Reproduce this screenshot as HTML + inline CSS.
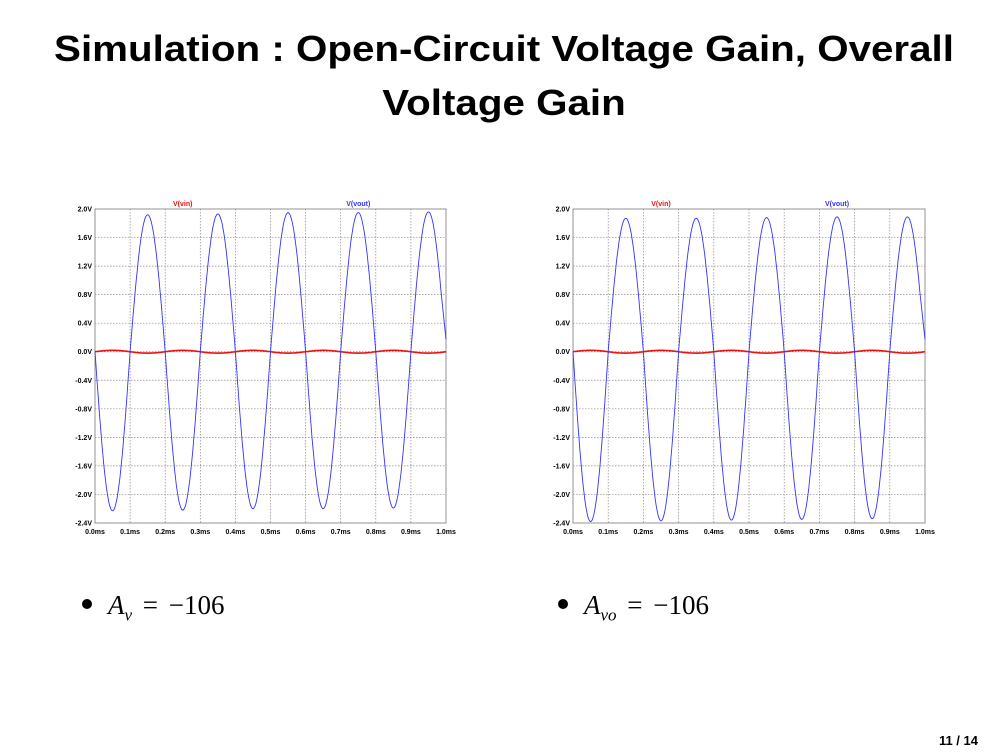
<!DOCTYPE html>
<html><head><meta charset="utf-8"><style>
body{margin:0;width:1008px;height:756px;background:#fff;position:relative;overflow:hidden;font-family:"Liberation Sans",sans-serif}
.title{position:absolute;left:0;width:1008px;top:22px;text-align:center;font-size:36px;font-weight:bold;line-height:54px;color:#000;transform:scaleX(1.12);transform-origin:504px 0}
.bul{position:absolute;top:590px;font-family:"Liberation Serif",serif;font-size:27px;word-spacing:4px}
.bul i{font-style:italic}
.dot{display:inline-block;width:10px;height:10px;border-radius:50%;background:#000;margin-right:16px;vertical-align:middle;position:relative;top:-4px}
.pg{position:absolute;right:30px;top:733px;font-size:13px;font-weight:bold}
svg{position:absolute;left:0;top:0}
</style></head><body>
<div class="title">Simulation : Open-Circuit Voltage Gain, Overall<br>Voltage Gain</div>
<svg id="charts" width="1008" height="756"></svg>
<div class="bul" style="left:82px"><span class="dot"></span><i>A</i><sub style="font-size:17px"><i>v</i></sub> = −106</div>
<div class="bul" style="left:558px"><span class="dot"></span><i>A</i><sub style="font-size:17px"><i>vo</i></sub> = −106</div>
<div class="pg">11 / 14</div>
<script>
const yTicks=[2.0,1.6,1.2,0.8,0.4,0.0,-0.4,-0.8,-1.2,-1.6,-2.0,-2.4];
const xTicks=[0,0.1,0.2,0.3,0.4,0.5,0.6,0.7,0.8,0.9,1.0];
const leftVoutMax=[1.92,1.93,1.95,1.95,1.96];
const leftVoutMin=[-2.23,-2.22,-2.20,-2.20,-2.19];
const rightVoutMax=[1.87,1.87,1.88,1.89,1.89];
const rightVoutMin=[-2.38,-2.37,-2.36,-2.35,-2.34];
const vinAmp=[0.02,0.02];
const NS="http://www.w3.org/2000/svg";
const svg=document.getElementById('charts');
function mk(tag,attrs,parent){const e=document.createElementNS(NS,tag);for(const k in attrs)e.setAttribute(k,attrs[k]);(parent||svg).appendChild(e);return e;}
function chart(L,R,T,B,vmax,vmin,vinA,name){
 const g=mk('g',{});
 
 
 const xs=t=>L+(t/1.0)*(R-L);
 const ys=v=>T+(2.0-v)/4.4*(B-T);
 mk('rect',{x:L,y:T,width:R-L,height:B-T,fill:'none',stroke:'#999','stroke-width':1},g);
 yTicks.forEach(v=>{
  const gl=mk('line',{x1:L,x2:R,y1:ys(v),y2:ys(v),stroke:'#888','stroke-width':0.7,'stroke-dasharray':'1.5,1.5'},g);
  
  
  const tx=mk('text',{x:L-3,y:ys(v)+2.5,'text-anchor':'end','font-size':7,'font-weight':'bold',fill:'#000'},g);
  tx.textContent=v.toFixed(1)+'V';
  
  
 });
 xTicks.forEach(t=>{
  const gl=mk('line',{x1:xs(t),x2:xs(t),y1:T,y2:B,stroke:'#888','stroke-width':0.7,'stroke-dasharray':'1.5,1.5'},g);
  
  
  const tx=mk('text',{x:xs(t),y:B+11,'text-anchor':'middle','font-size':7,'font-weight':'bold',fill:'#000'},g);
  tx.textContent=t.toFixed(1)+'ms';
  
  
 });
 let d='',dv='';
 const N=400;
 for(let i=0;i<=N;i++){
  const t=i/N*0.985;
  const c=Math.min(4,Math.floor(t/0.2));
  const s=Math.sin(2*Math.PI*t/0.2);
  const v=s>0?-s*(-vmin[c]):-s*vmax[c];
  d+=(i?'L':'M')+xs(t).toFixed(1)+','+ys(v).toFixed(1);
  const vi=s*(s>0?vinA[0]:vinA[1]);
  dv+=(i?'L':'M')+xs(t).toFixed(1)+','+ys(vi).toFixed(1);
 }
 d+='L'+xs(1.0).toFixed(1)+','+ys(0.17).toFixed(1);
 dv+='L'+xs(1.0).toFixed(1)+','+ys(0).toFixed(1);
 const pv=mk('path',{d:dv,fill:'none',stroke:'#ee1111','stroke-width':1.6},g);
 
 
 const po=mk('path',{d:d,fill:'none',stroke:'#3333ff','stroke-width':0.9},g);
 
 
 const l1=mk('text',{x:L+(R-L)*0.25,y:T-3,'text-anchor':'middle','font-size':7,'font-weight':'bold',fill:'#ee1111'},g);
 l1.textContent='V(vin)';
 
 
 const l2=mk('text',{x:L+(R-L)*0.75,y:T-3,'text-anchor':'middle','font-size':7,'font-weight':'bold',fill:'#3333ff'},g);
 l2.textContent='V(vout)';
 
 
}
chart(95,446,209,523,leftVoutMax,leftVoutMin,vinAmp,'left-chart');
chart(573,925,209,523,rightVoutMax,rightVoutMin,vinAmp,'right-chart');
</script>
</body></html>
